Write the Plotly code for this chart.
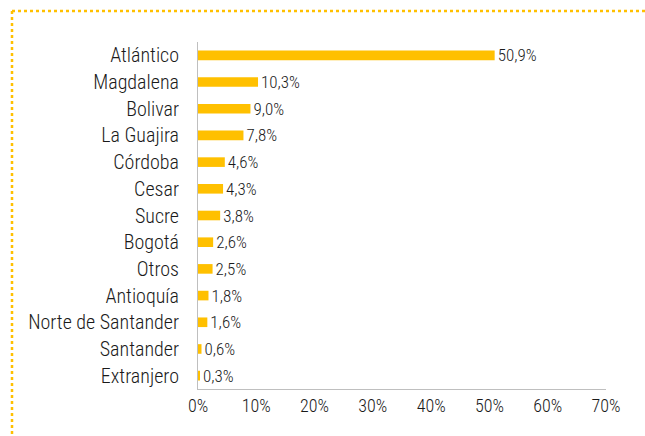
import plotly.graph_objects as go

categories = ["Atlántico", "Magdalena", "Bolivar", "La Guajira", "Córdoba", "Cesar", "Sucre",
              "Bogotá", "Otros", "Antioquía", "Norte de Santander", "Santander", "Extranjero"]
values = [50.9, 10.3, 9.0, 7.8, 4.6, 4.3, 3.8, 2.6, 2.5, 1.8, 1.6, 0.6, 0.3]
labels = [f"{v:.1f}%".replace(".", ",") for v in values]
tick_vals = [0, 10, 20, 30, 40, 50, 60, 70]
tick_text = [f"{t}%" for t in tick_vals]

W, H = 645, 436
ml, mr, mt, mb = 198, 39, 42, 47
FONT = "Roboto Condensed, DejaVu Sans Condensed, sans-serif"
GOLD = "#FFC000"
TXT = "#1a1a1a"

fig = go.Figure(go.Bar(
    y=categories, x=values, orientation="h", width=0.36,
    marker=dict(color=GOLD, line=dict(width=0)),
    text=labels, textposition="outside", cliponaxis=False, constraintext="none",
    textfont=dict(family=FONT, size=17, color=TXT, weight=300),
))

pw = W - ml - mr
ph = H - mt - mb
def px_x(px):
    return (px - ml) / pw
def px_y(py):
    return (H - mb - py) / ph

fig.add_shape(type="line", xref="paper", yref="paper",
              x0=px_x(12), x1=px_x(645), y0=px_y(11), y1=px_y(11),
              line=dict(color=GOLD, width=2.5, dash="dot"))
fig.add_shape(type="line", xref="paper", yref="paper",
              x0=px_x(12), x1=px_x(12), y0=px_y(11), y1=px_y(436),
              line=dict(color=GOLD, width=2.5, dash="dot"))

fig.update_layout(
    width=W, height=H, margin=dict(l=ml, r=mr, t=mt, b=mb, autoexpand=False),
    paper_bgcolor="white", plot_bgcolor="white", showlegend=False,
    font=dict(family=FONT, color=TXT),
    xaxis=dict(range=[0, 70], tickvals=tick_vals, ticktext=tick_text,
               showgrid=False, zeroline=False, showline=True, linecolor="#BFBFBF",
               linewidth=1, ticks="", ticklabelstandoff=0,
               tickfont=dict(family=FONT, size=18, color=TXT, weight=300)),
    yaxis=dict(autorange="reversed", showgrid=False, zeroline=False, showline=True,
               linecolor="#BFBFBF", linewidth=1, ticks="", ticklen=0, ticklabelstandoff=14,
               tickfont=dict(family=FONT, size=20, color=TXT, weight=300)),
)

fig.write_html("out.html", config={"displayModeBar": False},
               post_script="document.body.style.margin='0';")
